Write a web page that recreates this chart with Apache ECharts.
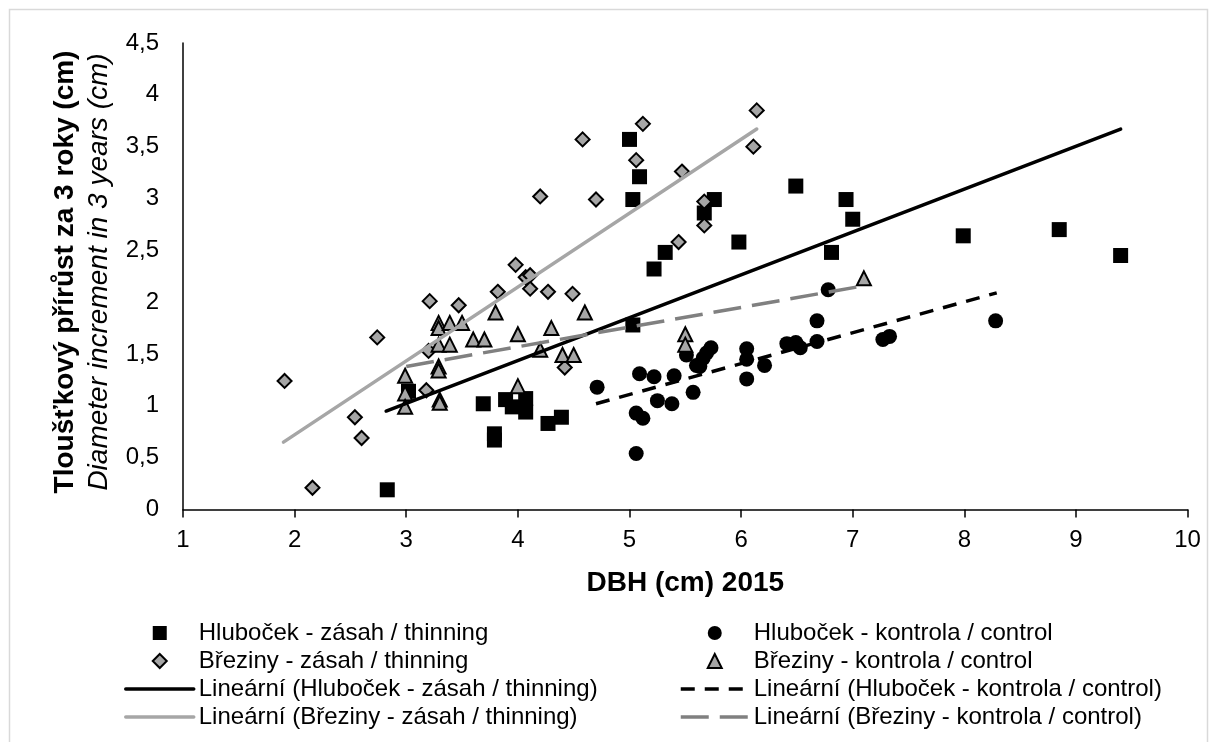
<!DOCTYPE html>
<html><head><meta charset="utf-8">
<script src="https://cdn.jsdelivr.net/npm/echarts@6/dist/echarts.min.js"></script>
<style>html,body{margin:0;padding:0;background:#fff}#c{width:1209px;height:742px}</style>
</head><body><div id="c"></div>
<script>
// ---- data ----
const nameHZ = 'Hluboček - zásah / thinning';
const nameHK = 'Hluboček - kontrola / control';
const nameBZ = 'Březiny - zásah / thinning';
const nameBK = 'Březiny - kontrola / control';
const nameTHZ = 'Lineární (Hluboček - zásah / thinning)';
const nameTHK = 'Lineární (Hluboček - kontrola / control)';
const nameTBZ = 'Lineární (Březiny - zásah / thinning)';
const nameTBK = 'Lineární (Březiny - kontrola / control)';

const hlubocekZasah = [[2.83,0.19],[3.02,1.14],[3.69,1.02],[3.79,0.73],[3.79,0.67],[3.89,1.06],[3.95,0.99],[4.07,1.07],[4.07,0.94],[4.27,0.83],[4.39,0.89],[5.00,3.57],[5.03,2.99],[5.03,1.78],[5.09,3.21],[5.22,2.32],[5.32,2.48],[5.67,2.86],[5.76,2.99],[5.98,2.58],[6.49,3.12],[6.81,2.48],[6.94,2.99],[7.00,2.80],[7.99,2.64],[8.85,2.70],[9.40,2.45]];
const hlubocekKontrola = [[4.71,1.18],[5.06,0.93],[5.12,0.88],[5.06,0.54],[5.09,1.31],[5.22,1.28],[5.25,1.05],[5.38,1.02],[5.40,1.29],[5.51,1.49],[5.57,1.13],[5.60,1.39],[5.63,1.38],[5.66,1.46],[5.69,1.51],[5.73,1.56],[6.05,1.55],[6.05,1.45],[6.05,1.26],[6.21,1.39],[6.41,1.60],[6.49,1.61],[6.53,1.56],[6.68,1.82],[6.68,1.62],[6.78,2.12],[7.27,1.64],[7.33,1.67],[8.28,1.82]];
const brezinyZasah = [[1.91,1.24],[2.16,0.21],[2.54,0.89],[2.60,0.69],[2.74,1.66],[3.18,1.15],[3.20,1.53],[3.21,2.01],[3.47,1.97],[3.82,2.10],[3.98,2.36],[4.07,2.24],[4.11,2.26],[4.11,2.13],[4.20,3.02],[4.27,2.10],[4.42,1.37],[4.49,2.08],[4.58,3.57],[4.70,2.99],[5.06,3.37],[5.12,3.72],[5.44,2.58],[5.47,3.26],[5.67,2.97],[5.67,2.74],[6.11,3.50],[6.14,3.85]];
const brezinyKontrola = [[2.99,1.29],[2.99,1.12],[2.99,0.99],[3.29,1.80],[3.29,1.75],[3.39,1.80],[3.50,1.80],[3.29,1.59],[3.39,1.59],[3.60,1.64],[3.29,1.38],[3.29,1.34],[3.30,1.06],[3.30,1.03],[3.70,1.64],[3.80,1.90],[4.00,1.69],[4.00,1.19],[4.20,1.54],[4.30,1.75],[4.40,1.49],[4.50,1.49],[4.60,1.90],[5.50,1.69],[5.50,1.59],[7.10,2.23]];

// trendline end points
const trendHZ = [[2.82,0.95],[9.40,3.67]];
const trendHK = [[4.70,1.02],[8.29,2.09]];
const trendBZ = [[1.90,0.65],[6.14,3.67]];
const trendBK = [[3.00,1.38],[7.11,2.16]];

const xMin = 1, xMax = 10, xStep = 1;
const yMin = 0, yMax = 4.5, yStep = 0.5;

const xTitle = 'DBH (cm) 2015';
const yTitle1 = 'Tloušťkový přírůst za 3 roky (cm)';
const yTitle2 = 'Diameter increment in 3 years (cm)';

// ---- chart ----
const FONT = '"Liberation Sans", Arial, sans-serif';
const ICON_SQUARE = 'path://M0,0H10V10H0Z';
const ICON_DIAMOND = 'path://M5,0L10,5L5,10L0,5Z';
const ICON_TRIANGLE = 'path://M5,0L10,10L0,10Z';
const hideSym = {color: 'rgba(0,0,0,0)', borderWidth: 0, opacity: 0};

const chart = echarts.init(document.getElementById('c'), null, {renderer: 'canvas'});
const legendCommon = {
  orient: 'vertical', itemWidth: 68, itemHeight: 14, itemGap: 0, symbolKeepAspect: true,
  textStyle: {fontFamily: FONT, fontSize: 24, color: '#000', lineHeight: 28},
  lineStyle: {width: 3.5},
  selectedMode: false, padding: 0
};
chart.setOption({
  animation: false,
  backgroundColor: '#fff',
  grid: {left: 183, right: 21.4, top: 43, bottom: 232.5, containLabel: false},
  xAxis: {
    type: 'value', min: xMin, max: xMax, interval: xStep,
    name: xTitle, nameLocation: 'middle', nameGap: 60,
    nameTextStyle: {fontFamily: FONT, fontSize: 28, fontWeight: 'bold', color: '#000'},
    axisLine: {show: true, onZero: false, lineStyle: {color: '#000', width: 1.5}},
    axisTick: {show: true, inside: false, length: 8, lineStyle: {color: '#000', width: 1.5}},
    axisLabel: {fontFamily: FONT, fontSize: 24, color: '#000', margin: 19},
    splitLine: {show: false}
  },
  yAxis: {
    type: 'value', min: yMin, max: yMax, interval: yStep,
    axisLine: {show: true, onZero: false, lineStyle: {color: '#000', width: 1.5}},
    axisTick: {show: false},
    axisLabel: {fontFamily: FONT, fontSize: 24, color: '#000', margin: 24,
      formatter: v => String(v).replace('.', ',')},
    splitLine: {show: false}
  },
  legend: [
    Object.assign({left: 124, top: 619, data: [
      {name: nameHZ, icon: ICON_SQUARE},
      {name: nameBZ, icon: ICON_DIAMOND},
      {name: nameTHZ, itemStyle: hideSym},
      {name: nameTBZ, itemStyle: hideSym}
    ]}, legendCommon),
    Object.assign({left: 679, top: 619, data: [
      {name: nameHK, icon: 'circle'},
      {name: nameBK, icon: ICON_TRIANGLE},
      {name: nameTHK, itemStyle: hideSym},
      {name: nameTBK, itemStyle: hideSym}
    ]}, legendCommon)
  ],
  graphic: [
    {type: 'rect', silent: true, z: -10, shape: {x: 9.5, y: 9.5, width: 1198, height: 800},
      style: {fill: 'none', stroke: '#D9D9D9', lineWidth: 1.5}},
    {type: 'text', silent: true, x: 82, y: 272, rotation: Math.PI / 2,
      style: {
        text: '{b|' + yTitle1 + '}\n{i|' + yTitle2 + '}',
        align: 'center', verticalAlign: 'middle',
        rich: {
          b: {fontFamily: FONT, fontSize: 28, fontWeight: 'bold', fill: '#000', lineHeight: 34, align: 'center'},
          i: {fontFamily: FONT, fontSize: 28, fontStyle: 'italic', fill: '#000', lineHeight: 34, align: 'center'}
        }
      }}
  ],
  series: [
    {name: nameHZ, type: 'scatter', data: hlubocekZasah, symbol: 'rect', symbolSize: 15,
      itemStyle: {color: '#000', opacity: 1}, z: 2},
    {name: nameHK, type: 'scatter', data: hlubocekKontrola, symbol: 'circle', symbolSize: 15,
      itemStyle: {color: '#000', opacity: 1}, z: 2},
    {name: nameBZ, type: 'scatter', data: brezinyZasah, symbol: 'diamond', symbolSize: 14,
      itemStyle: {color: '#A6A6A6', borderColor: '#000', borderWidth: 2, opacity: 1}, z: 2},
    {name: nameBK, type: 'scatter', data: brezinyKontrola, symbol: 'triangle', symbolSize: 14,
      itemStyle: {color: '#A6A6A6', borderColor: '#000', borderWidth: 2, opacity: 1}, z: 2},
    {name: nameTHZ, type: 'line', data: trendHZ, symbol: 'none', z: 3,
      lineStyle: {color: '#000', width: 3.5, cap: 'round'}, itemStyle: {color: '#000'}},
    {name: nameTHK, type: 'line', data: trendHK, symbol: 'none', z: 3,
      lineStyle: {color: '#000', width: 3.5, type: [14, 10]}, itemStyle: {color: '#000'}},
    {name: nameTBZ, type: 'line', data: trendBZ, symbol: 'none', z: 3,
      lineStyle: {color: '#A6A6A6', width: 3.5, cap: 'round'}, itemStyle: {color: '#A6A6A6'}},
    {name: nameTBK, type: 'line', data: trendBK, symbol: 'none', z: 3,
      lineStyle: {color: '#808080', width: 3.5, type: [28, 11]}, itemStyle: {color: '#808080'}}
  ]
});
</script></body></html>
